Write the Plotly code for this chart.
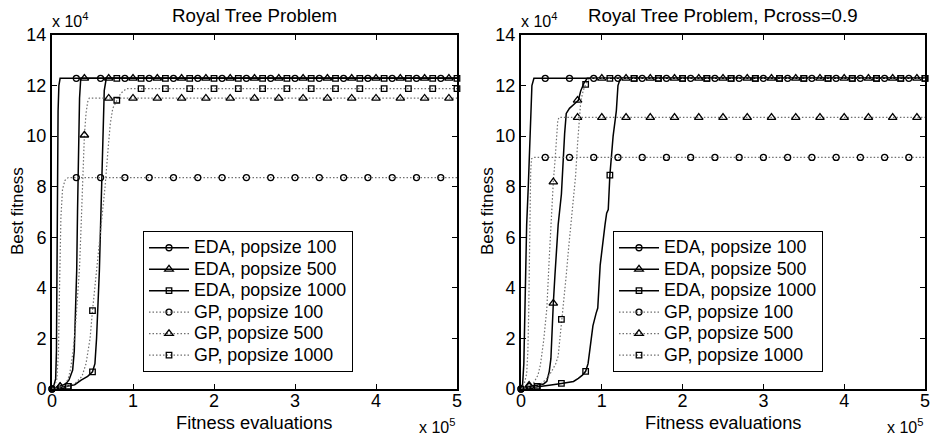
import plotly.graph_objects as go

FONT = "Liberation Sans, Arial, Helvetica, sans-serif"
W, H = 930, 438

# ---------------- text ----------------
title_left = "Royal Tree Problem"
title_right = "Royal Tree Problem, Pcross=0.9"
x_label = "Fitness evaluations"
y_label = "Best fitness"
x_tick_vals = [0, 1, 2, 3, 4, 5]          # x 10^5 evaluations
y_tick_vals = [0, 2, 4, 6, 8, 10, 12, 14]  # x 10^4 fitness
names = ["EDA, popsize 100", "EDA, popsize 500", "EDA, popsize 1000",
         "GP, popsize 100", "GP, popsize 500", "GP, popsize 1000"]

# ---------------- marker grids (x in 1e5 evaluations) ----------------
mk_circle_x = [0.0, 0.3, 0.6, 0.9, 1.2, 1.5, 1.8, 2.1, 2.4, 2.7, 3.0, 3.3, 3.6, 3.9, 4.2, 4.5, 4.8]
mk_triangle_x = [0.1, 0.4, 0.7, 1.0, 1.3, 1.6, 1.9, 2.2, 2.5, 2.8, 3.1, 3.4, 3.7, 4.0, 4.3, 4.6, 4.9]
mk_square_x = [0.2, 0.5, 0.8, 1.1, 1.4, 1.7, 2.0, 2.3, 2.6, 2.9, 3.2, 3.5, 3.8, 4.1, 4.4, 4.7, 5.0]

# ---------------- left panel: Royal Tree Problem ----------------
L_eda100_x = [0, 0.02, 0.045, 0.055, 0.06, 0.065, 0.07, 0.075, 0.085, 0.10, 5.0]
L_eda100_y = [0, 0.1, 0.4, 1.5, 4.0, 7.0, 9.0, 11.0, 12.0, 12.288, 12.288]
L_eda100_my = [0.0, 12.288, 12.288, 12.288, 12.288, 12.288, 12.288, 12.288, 12.288,
               12.288, 12.288, 12.288, 12.288, 12.288, 12.288, 12.288, 12.288]

L_eda500_x = [0, 0.1, 0.17, 0.21, 0.255, 0.275, 0.29, 0.305, 0.315, 0.325, 0.34, 0.355, 5.0]
L_eda500_y = [0, 0.1, 0.2, 0.36, 0.75, 1.5, 3.0, 4.7, 7.0, 9.0, 11.5, 12.288, 12.288]
L_eda500_my = [0.1, 12.288, 12.288, 12.288, 12.288, 12.288, 12.288, 12.288, 12.288,
               12.288, 12.288, 12.288, 12.288, 12.288, 12.288, 12.288, 12.288]

L_eda1000_x = [0, 0.2, 0.28, 0.36, 0.44, 0.50, 0.53, 0.55, 0.57, 0.585, 0.60, 0.615, 0.63, 0.645, 0.67, 5.0]
L_eda1000_y = [0, 0.1, 0.17, 0.35, 0.5, 0.68, 1.0, 2.0, 3.5, 4.7, 6.5, 8.1, 10.0, 11.8, 12.288, 12.288]
L_eda1000_my = [0.1, 0.68, 12.288, 12.288, 12.288, 12.288, 12.288, 12.288, 12.288,
                12.288, 12.288, 12.288, 12.288, 12.288, 12.288, 12.288, 12.288]

L_gp100_x = [0, 0.03, 0.06, 0.08, 0.09, 0.10, 0.11, 0.13, 0.16, 0.20, 5.0]
L_gp100_y = [0, 0.1, 0.4, 1.5, 3.5, 5.0, 6.8, 7.9, 8.25, 8.36, 8.36]
L_gp100_my = [0.0, 8.36, 8.36, 8.36, 8.36, 8.36, 8.36, 8.36, 8.36,
              8.36, 8.36, 8.36, 8.36, 8.36, 8.36, 8.36, 8.36]

L_gp500_x = [0, 0.1, 0.16, 0.20, 0.23, 0.26, 0.29, 0.32, 0.34, 0.36, 0.375, 0.40, 0.42, 0.44, 0.46, 0.55, 5.0]
L_gp500_y = [0, 0.1, 0.2, 0.4, 0.8, 1.5, 2.5, 3.8, 4.8, 6.5, 8.0, 10.04, 10.9, 11.35, 11.5, 11.5, 11.5]
L_gp500_my = [0.1, 10.04, 11.5, 11.5, 11.5, 11.5, 11.5, 11.5, 11.5,
              11.5, 11.5, 11.5, 11.5, 11.5, 11.5, 11.5, 11.5]

L_gp1000_x = [0, 0.2, 0.28, 0.37, 0.42, 0.47, 0.50, 0.55, 0.59, 0.625, 0.655, 0.69, 0.72, 0.75, 0.80, 0.85, 0.92, 5.0]
L_gp1000_y = [0, 0.1, 0.2, 0.5, 1.0, 2.0, 3.1, 4.7, 6.0, 7.0, 8.0, 9.4, 10.5, 11.1, 11.42, 11.7, 11.88, 11.88]
L_gp1000_my = [0.1, 3.1, 11.42, 11.88, 11.88, 11.88, 11.88, 11.88, 11.88,
               11.88, 11.88, 11.88, 11.88, 11.88, 11.88, 11.88, 11.88]

# ---------------- right panel: Pcross = 0.9 ----------------
R_eda100_x = [0, 0.02, 0.035, 0.045, 0.055, 0.07, 0.09, 0.11, 0.125, 0.135, 0.16, 5.0]
R_eda100_y = [0, 0.2, 1.0, 3.0, 5.0, 6.5, 8.0, 9.5, 11.0, 12.0, 12.288, 12.288]
R_eda100_my = [0.0, 12.288, 12.288, 12.288, 12.288, 12.288, 12.288, 12.288, 12.288,
               12.288, 12.288, 12.288, 12.288, 12.288, 12.288, 12.288, 12.288]

R_eda500_x = [0, 0.1, 0.2, 0.28, 0.32, 0.35, 0.37, 0.385, 0.40, 0.42, 0.46, 0.50, 0.52, 0.54,
              0.56, 0.60, 0.67, 0.71, 0.74, 0.78, 0.82, 5.0]
R_eda500_y = [0, 0.1, 0.15, 0.2, 0.3, 0.7, 1.2, 2.5, 3.39, 4.5, 6.5, 7.7, 9.0, 10.1,
              10.9, 11.1, 11.3, 11.42, 11.8, 12.1, 12.288, 12.288]
R_eda500_my = [0.1, 3.39, 11.42, 12.288, 12.288, 12.288, 12.288, 12.288, 12.288,
               12.288, 12.288, 12.288, 12.288, 12.288, 12.288, 12.288, 12.288]

R_eda1000_x = [0, 0.2, 0.35, 0.5, 0.65, 0.71, 0.76, 0.80, 0.83, 0.85, 0.89, 0.93, 0.95, 0.98,
               1.01, 1.04, 1.06, 1.08, 1.10, 1.14, 1.18, 1.20, 1.23, 5.0]
R_eda1000_y = [0, 0.1, 0.15, 0.22, 0.3, 0.42, 0.55, 0.7, 1.0, 1.5, 2.5, 3.0, 3.2, 4.9,
               5.8, 6.5, 6.95, 7.1, 8.46, 10.0, 11.0, 12.0, 12.288, 12.288]
R_eda1000_my = [0.1, 0.22, 0.7, 8.46, 12.288, 12.288, 12.288, 12.288, 12.288,
                12.288, 12.288, 12.288, 12.288, 12.288, 12.288, 12.288, 12.288]

R_gp100_x = [0, 0.04, 0.07, 0.085, 0.095, 0.10, 0.105, 0.11, 0.12, 0.13, 0.16, 5.0]
R_gp100_y = [0, 0.2, 0.6, 1.5, 3.0, 4.5, 6.0, 7.5, 8.6, 9.1, 9.16, 9.16]
R_gp100_my = [0.0, 9.16, 9.16, 9.16, 9.16, 9.16, 9.16, 9.16, 9.16,
              9.16, 9.16, 9.16, 9.16, 9.16, 9.16, 9.16, 9.16]

R_gp500_x = [0, 0.1, 0.15, 0.21, 0.24, 0.28, 0.32, 0.35, 0.37, 0.385, 0.40, 0.42, 0.44, 0.455, 0.47, 5.0]
R_gp500_y = [0, 0.15, 0.2, 0.55, 0.95, 1.9, 3.2, 5.2, 6.5, 7.5, 8.19, 9.0, 10.0, 10.6, 10.74, 10.74]
R_gp500_my = [0.15, 8.19, 10.74, 10.74, 10.74, 10.74, 10.74, 10.74, 10.74,
              10.74, 10.74, 10.74, 10.74, 10.74, 10.74, 10.74, 10.74]

R_gp1000_x = [0, 0.2, 0.25, 0.33, 0.38, 0.43, 0.46, 0.48, 0.50, 0.53, 0.56, 0.59, 0.62, 0.65,
              0.675, 0.70, 0.72, 0.74, 0.77, 0.80, 0.83, 0.86, 5.0]
R_gp1000_y = [0, 0.1, 0.2, 0.45, 0.7, 1.0, 1.3, 1.9, 2.75, 3.6, 4.5, 5.6, 6.6, 7.6,
              8.4, 9.7, 10.7, 11.4, 11.8, 12.05, 12.2, 12.288, 12.288]
R_gp1000_my = [0.1, 2.75, 12.05, 12.288, 12.288, 12.288, 12.288, 12.288, 12.288,
               12.288, 12.288, 12.288, 12.288, 12.288, 12.288, 12.288, 12.288]

left_series = [
    (L_eda100_x, L_eda100_y, mk_circle_x, L_eda100_my),
    (L_eda500_x, L_eda500_y, mk_triangle_x, L_eda500_my),
    (L_eda1000_x, L_eda1000_y, mk_square_x, L_eda1000_my),
    (L_gp100_x, L_gp100_y, mk_circle_x, L_gp100_my),
    (L_gp500_x, L_gp500_y, mk_triangle_x, L_gp500_my),
    (L_gp1000_x, L_gp1000_y, mk_square_x, L_gp1000_my),
]
right_series = [
    (R_eda100_x, R_eda100_y, mk_circle_x, R_eda100_my),
    (R_eda500_x, R_eda500_y, mk_triangle_x, R_eda500_my),
    (R_eda1000_x, R_eda1000_y, mk_square_x, R_eda1000_my),
    (R_gp100_x, R_gp100_y, mk_circle_x, R_gp100_my),
    (R_gp500_x, R_gp500_y, mk_triangle_x, R_gp500_my),
    (R_gp1000_x, R_gp1000_y, mk_square_x, R_gp1000_my),
]

# ---------------- styles ----------------
symbols = ["circle-open", "triangle-up-open", "square-open"] * 2
msizes = [6, 7.5, 5.5] * 2
solid = dict(color="black", width=1.5)
dotted = dict(color="#707070", width=1.2, dash="1.5px,2px")
line_styles = [solid, solid, solid, dotted, dotted, dotted]


def px_x(p):
    return p / W


def px_y(p):
    return 1 - p / H


fig = go.Figure()
for panel, (series, xa, ya, lg) in enumerate([
        (left_series, "x", "y", "legend"),
        (right_series, "x2", "y2", "legend2")]):
    for i, (cx, cy, mx, my) in enumerate(series):
        fig.add_trace(go.Scatter(x=cx, y=cy, mode="lines", line=line_styles[i],
                                 xaxis=xa, yaxis=ya, showlegend=False, hoverinfo="skip"))
        fig.add_trace(go.Scatter(x=mx, y=my, mode="markers", cliponaxis=False,
                                 marker=dict(symbol=symbols[i], size=msizes[i], color="black",
                                             line=dict(width=1.3, color="black")),
                                 xaxis=xa, yaxis=ya, showlegend=False, hoverinfo="skip"))
    for i in range(len(series)):
        fig.add_trace(go.Scatter(x=[None], y=[None], mode="lines+markers", line=line_styles[i],
                                 marker=dict(symbol=symbols[i], size=msizes[i], color="black",
                                             line=dict(width=1.3, color="black")),
                                 name="<span style='font-size:17.8px'>" + names[i] + "</span>",
                                 xaxis=xa, yaxis=ya, legend=lg, showlegend=True))

axis_common = dict(showline=True, linecolor="black", linewidth=2, mirror="ticks",
                   ticks="inside", ticklen=5, tickwidth=1, tickcolor="black",
                   showgrid=False, zeroline=False, ticklabeloverflow="allow",
                   tickfont=dict(family=FONT, size=18, color="black"))
ydom = [px_y(389), px_y(35)]

legend_common = dict(xanchor="left", yanchor="top", bordercolor="black", borderwidth=1,
                     bgcolor="white", font=dict(family=FONT, size=14.2, color="black"),
                     tracegroupgap=0, itemwidth=40)

fig.update_layout(
    width=W, height=H,
    margin=dict(l=0, r=0, t=0, b=0, autoexpand=False),
    paper_bgcolor="white", plot_bgcolor="white",
    font=dict(family=FONT, color="black"),
    xaxis=dict(domain=[px_x(52), px_x(457)], range=[0, 5], tickvals=x_tick_vals, anchor="y",
               ticklabelstandoff=-6, **axis_common),
    yaxis=dict(domain=ydom, range=[0, 14], tickvals=y_tick_vals, anchor="x", **axis_common),
    xaxis2=dict(domain=[px_x(521), px_x(925)], range=[0, 5], tickvals=x_tick_vals, anchor="y2",
                ticklabelstandoff=-6, **axis_common),
    yaxis2=dict(domain=ydom, range=[0, 14], tickvals=y_tick_vals, anchor="x2", **axis_common),
    legend=dict(x=px_x(143), y=px_y(231), **legend_common),
    legend2=dict(x=px_x(613), y=px_y(231), **legend_common),
    showlegend=True,
)

ann = []
for cx, x0, x1, ttl, ylx in [(254.5, 52, 457, title_left, 17), (723, 521, 925, title_right, 487)]:
    ann.append(dict(text=ttl, x=px_x(cx), y=px_y(15), xref="paper", yref="paper",
                    xanchor="center", yanchor="middle", showarrow=False, font=dict(size=18.7)))
    ann.append(dict(text=x_label, x=px_x(cx), y=px_y(422), xref="paper", yref="paper",
                    xanchor="center", yanchor="middle", showarrow=False, font=dict(size=18.3)))
    ann.append(dict(text=y_label, x=px_x(ylx), y=px_y(211), xref="paper", yref="paper",
                    xanchor="center", yanchor="middle", textangle=-90, showarrow=False,
                    font=dict(size=17)))
    ann.append(dict(text="x 10<sup>4</sup>", x=px_x(x0 - 2), y=px_y(32), xref="paper", yref="paper",
                    xanchor="left", yanchor="bottom", showarrow=False, font=dict(size=16)))
    ann.append(dict(text="x 10<sup>5</sup>", x=px_x(x1), y=px_y(414), xref="paper", yref="paper",
                    xanchor="right", yanchor="top", showarrow=False, font=dict(size=16)))
fig.update_layout(annotations=ann)

fig.write_html("out.html", config={"displayModeBar": False},
               post_script="document.body.style.margin='0px';")
